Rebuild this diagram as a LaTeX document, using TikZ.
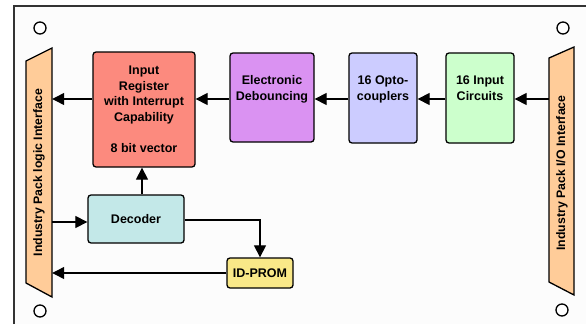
\documentclass[tikz,border=0pt]{standalone}
\usepackage{fontspec}
\setmainfont{Liberation Sans}
\usetikzlibrary{arrows.meta,calc}
\definecolor{bgc}{HTML}{FCFCFC}
\definecolor{framec}{HTML}{333333}
\definecolor{regc}{HTML}{FC8A7E}
\definecolor{debc}{HTML}{DA92F2}
\definecolor{optoc}{HTML}{CCCCFF}
\definecolor{incc}{HTML}{CCFFCC}
\definecolor{decc}{HTML}{C3E8E8}
\definecolor{idpc}{HTML}{F9E888}
\definecolor{ifc}{HTML}{FFCC99}
\tikzset{
  blk/.style={draw=black,line width=1.3pt,rounded corners=3pt,align=center,
    font=\fontsize{12.5}{15.5}\selectfont\bfseries,inner sep=0pt},
  arr/.style={line width=1.2pt,-{Triangle[length=12pt,width=12pt]}},
  hole/.style={draw=black,line width=1.3pt,fill=white},
  iface/.style={draw=black,line width=1.3pt,fill=ifc},
  sidetxt/.style={font=\fontsize{12.3}{14}\selectfont\bfseries,rotate=90,inner sep=0pt}
}
\begin{document}
\begin{tikzpicture}[x=1pt,y=-1pt]
\useasboundingbox (0,0) rectangle (586,324);
\fill[white] (0,0) rectangle (586,324);
\fill[bgc] (14,6) rectangle (586,324);
\draw[framec,line width=1.5pt] (14,324) -- (14,6) -- (586,6);
% mounting holes
\draw[hole] (40,28) circle (6);
\draw[hole] (563,28) circle (6);
\draw[hole] (40,311) circle (6);
\draw[hole] (562,310) circle (6);
% interfaces
\node[minimum width=26pt,minimum height=249pt,inner sep=0pt] (L) at (39,172.5) {};
\draw[iface] (26,61) -- (52,48) -- (52,297) -- (26,283) -- cycle;
\node[sidetxt] (Lt) at (39,172.5) {Industry Pack logic Interface};
\node[minimum width=25pt,minimum height=248pt,inner sep=0pt] (R) at (561.5,171) {};
\draw[iface] (549,58) -- (574,47) -- (574,295) -- (549,282) -- cycle;
\node[sidetxt] (Rt) at (562,173) {Industry Pack I/O Interface};
% blocks
\node[blk,fill=regc,minimum width=102pt,minimum height=115pt] (reg) at (144,109.5)
  {Input\\Register\\with Interrupt\\Capability\\[15.5pt]8 bit vector};
\node[blk,fill=debc,minimum width=84pt,minimum height=89pt] (deb) at (272,97.5)
  {Electronic\\Debouncing\\[4pt]};
\node[blk,fill=optoc,minimum width=68pt,minimum height=90pt] (opto) at (383,98)
  {16 Opto-\\couplers\\[4pt]};
\node[blk,fill=incc,minimum width=68pt,minimum height=90pt] (inc) at (480,98)
  {16 Input\\Circuits\\[4pt]};
\node[blk,fill=decc,minimum width=96pt,minimum height=48pt] (dec) at (136,219) {Decoder};
\node[blk,fill=idpc,minimum width=66pt,minimum height=30pt] (idp) at (260,273) {ID-PROM};
% connectors
\draw[arr] (R.west |- 0,99) -- (inc.east |- 0,99);
\draw[arr] (inc.west |- 0,99) -- (opto.east |- 0,99);
\draw[arr] (opto.west |- 0,99) -- (deb.east |- 0,99);
\draw[arr] (deb.west |- 0,99) -- (reg.east |- 0,99);
\draw[arr] (reg.west |- 0,99) -- (L.east |- 0,99);
\draw[arr] (dec.north -| 142,0) -- (reg.south -| 142,0);
\draw[arr] (L.east |- 0,222) -- (dec.west |- 0,222);
\draw[arr] (dec.east |- 0,220) -| (idp.north);
\draw[arr] (idp.west) -- (L.east |- idp.west);
\end{tikzpicture}
\end{document}
